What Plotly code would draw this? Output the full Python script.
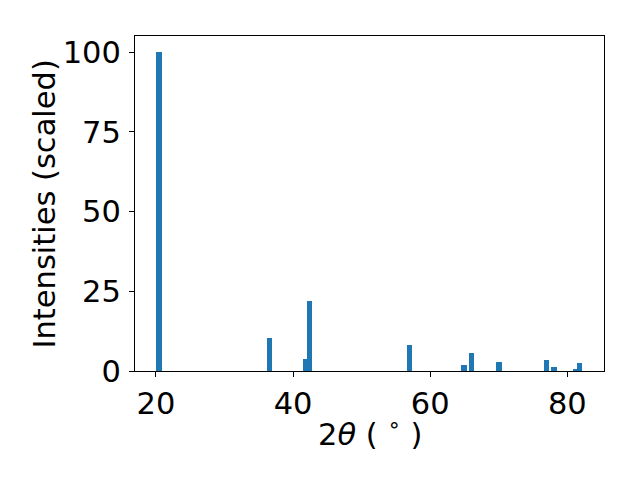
import plotly.graph_objects as go

two_theta = [20.45, 36.62, 41.75, 42.38, 56.92, 64.93, 66.03, 70.04, 76.98, 78.06, 81.22, 81.80]
intensity = [100.0, 10.4, 3.8, 22.0, 8.3, 1.9, 5.6, 2.8, 3.45, 1.25, 0.6, 2.5]
x_ticks = [20, 40, 60, 80]
y_ticks = [0, 25, 50, 75, 100]
x_title = "2<i>θ</i> ( <sup>∘</sup> )"
y_title = "Intensities (scaled)"

FONT = "DejaVu Sans"
FS = 30.5

fig = go.Figure(go.Bar(x=two_theta, y=intensity, width=0.75,
                       marker=dict(color="#1f77b4", line=dict(width=0))))

# page body has an 8px margin, so the plot area is placed 8px up/left
fig.update_layout(
    width=640, height=480,
    margin=dict(l=127, r=44, t=28, b=117, autoexpand=False),
    paper_bgcolor="white", plot_bgcolor="white",
    font=dict(family=FONT, size=FS, color="black"),
    showlegend=False,
    bargap=0,
    annotations=[
        dict(text=x_title, xref="paper", yref="paper", x=0.5, y=-0.182,
             xanchor="center", yanchor="middle", showarrow=False,
             font=dict(family=FONT, size=FS, color="black")),
        dict(text=y_title, xref="paper", yref="paper", x=-0.192, y=0.5,
             xanchor="center", yanchor="middle", showarrow=False, textangle=-90,
             font=dict(family=FONT, size=FS, color="black")),
    ],
)
fig.update_xaxes(
    range=[16.94, 85.35], tickvals=x_ticks, ticktext=[str(v) for v in x_ticks],
    showgrid=False, zeroline=False,
    showline=True, linecolor="black", linewidth=1.1, mirror=True,
    ticks="outside", ticklen=5, tickwidth=1.1, tickcolor="black",
    ticklabelstandoff=0,
)
fig.update_yaxes(
    range=[0, 105.1], tickvals=y_ticks, ticktext=[str(v) for v in y_ticks],
    showgrid=False, zeroline=False,
    showline=True, linecolor="black", linewidth=1.1, mirror=True,
    ticks="outside", ticklen=5, tickwidth=1.1, tickcolor="black",
    ticklabelstandoff=2,
)

fig.write_html("out.html")
